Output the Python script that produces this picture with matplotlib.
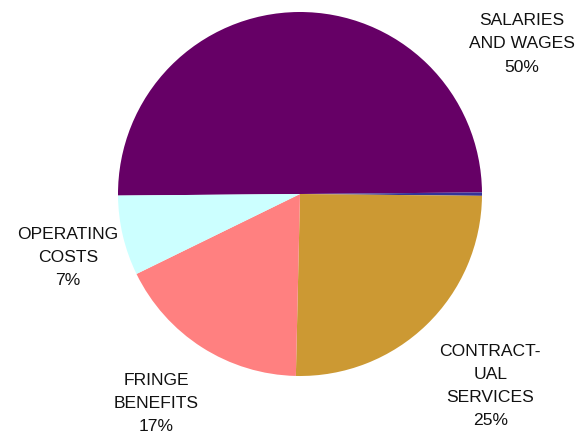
import matplotlib
matplotlib.use("Agg")
import matplotlib.pyplot as plt

# budget shares, clockwise from the left edge
categories = ["SALARIES\nAND WAGES", "OTHER", "CONTRACT-\nUAL\nSERVICES", "FRINGE\nBENEFITS", "OPERATING\nCOSTS"]
shares = [50.0, 0.3, 25.2, 17.4, 7.1]
colors = ["#660066", "#333399", "#cc9933", "#ff8080", "#ccffff"]
show_label = [True, False, True, True, True]
# label anchor points, in pie-radius units
label_pos = [(1.22, 0.83), None, (1.045, -1.05), (-0.79, -1.145), (-1.275, -0.345)]

plt.rcParams['font.family'] = ['Liberation Sans', 'DejaVu Sans']

fig = plt.figure(figsize=(5.82, 4.39), dpi=100)
ax = fig.add_axes([118 / 582, 62 / 439, 364 / 582, 364 / 439])

ax.pie(shares, colors=colors, startangle=180.5, counterclock=False,
       radius=1, wedgeprops=dict(linewidth=0))
ax.set_xlim(-1, 1)
ax.set_ylim(-1, 1)
ax.set_aspect("equal")
ax.axis("off")

for name, v, show, pos in zip(categories, shares, show_label, label_pos):
    if not show:
        continue
    ax.text(pos[0], pos[1], f"{name}\n{v:.0f}%", ha="center", va="center",
            fontsize=12.6, linespacing=1.68, color="#111111", clip_on=False)

fig.savefig("out.png", dpi=100)
